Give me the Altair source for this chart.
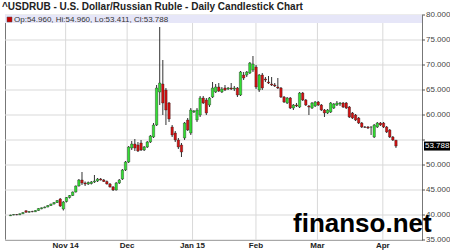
import altair as alt
import pandas as pd

# ---- data (trading-day sequence, Oct 2014 .. Apr 2015)
opens = [39.85, 40.00, 40.10, 40.05, 40.25, 40.85, 40.55, 40.70, 40.65, 40.90, 41.25, 41.45, 41.60, 41.90, 42.20, 42.50, 43.20, 41.20, 42.70,
         43.50, 43.90, 44.60, 45.80, 47.00, 46.40, 46.20, 46.30, 46.60, 46.80, 47.20, 47.00, 46.70, 46.20, 45.60, 45.00, 46.40, 47.20, 49.00,
         50.60, 53.40, 54.20, 54.00, 54.40, 53.00, 53.60, 54.60, 55.60, 58.00, 64.60, 66.20, 65.00, 62.40, 57.60, 56.40, 55.00, 54.00, 55.40, 59.00, 56.40, 60.60,
         59.00, 60.00, 63.40, 63.00, 62.00, 63.60, 64.60, 65.60, 64.60, 65.40, 65.20, 65.40, 65.20, 65.40, 64.00, 68.00, 68.00, 68.40, 69.00,
         69.60, 65.00, 68.00, 67.20, 66.60, 66.20, 66.00, 65.60, 65.40, 63.60, 62.40, 63.40, 61.40, 62.00, 61.60, 64.40, 63.00, 61.80, 61.40, 61.80,
         62.60, 62.00, 61.00, 60.40, 60.60, 61.40, 62.00, 62.20, 62.40, 62.40, 61.60, 60.40, 60.00, 59.40, 58.40, 57.60, 57.60, 57.60, 55.60, 57.60, 58.40,
         58.40, 57.60, 57.00, 55.60, 54.96]
highs = [40.05, 40.15, 40.20, 40.30, 40.55, 40.95, 40.75, 40.85, 40.95, 41.35, 41.50, 41.70, 41.95, 42.25, 42.55, 42.95, 43.40, 42.80, 43.60,
         44.00, 44.70, 45.90, 47.20, 48.60, 46.70, 46.70, 46.80, 48.00, 47.40, 47.40, 47.20, 46.90, 46.40, 45.80, 46.60, 47.20, 49.20, 50.80,
         53.80, 54.80, 55.20, 54.60, 55.00, 53.80, 54.80, 56.00, 58.40, 66.00, 77.60, 71.00, 65.40, 62.60, 58.00, 56.80, 55.40, 54.40, 58.60, 59.40, 61.40, 61.00,
         61.40, 63.80, 63.80, 63.40, 63.60, 66.60, 66.20, 66.40, 65.60, 66.00, 65.60, 66.40, 65.80, 65.60, 68.80, 68.60, 68.80, 70.60, 71.80,
         70.00, 68.20, 68.40, 67.60, 67.80, 67.60, 66.40, 67.40, 65.60, 63.80, 63.60, 63.60, 62.20, 62.40, 64.60, 64.60, 63.20, 62.00, 62.60, 62.80,
         62.80, 62.20, 61.20, 61.20, 62.60, 62.40, 62.80, 62.60, 62.60, 62.60, 61.80, 60.60, 60.20, 59.60, 58.60, 57.80, 57.80, 57.70, 58.20, 58.60, 58.60,
         58.60, 57.80, 57.20, 55.80, 54.96]
lows = [39.80, 39.95, 39.95, 40.00, 40.20, 40.45, 40.45, 40.55, 40.60, 40.85, 41.15, 41.35, 41.55, 41.80, 42.10, 42.40, 41.60, 40.90, 42.50,
        43.30, 43.80, 44.50, 45.70, 46.00, 45.80, 46.00, 46.10, 46.40, 46.60, 46.90, 46.60, 46.10, 45.50, 44.80, 44.90, 46.20, 47.00, 48.80,
        50.40, 53.00, 52.80, 52.60, 52.80, 52.80, 53.40, 54.40, 55.40, 57.80, 62.00, 60.00, 58.00, 58.60, 55.60, 54.60, 53.20, 51.60, 55.00, 56.80, 56.00, 60.40,
        58.60, 59.60, 62.20, 60.00, 61.60, 63.40, 64.40, 64.60, 64.40, 64.80, 65.00, 65.00, 64.80, 63.60, 63.80, 67.00, 67.60, 68.20, 68.60,
        65.20, 64.60, 65.00, 66.60, 66.20, 65.80, 65.60, 65.20, 63.40, 62.40, 62.20, 61.20, 61.00, 61.60, 61.40, 62.80, 61.80, 60.00, 61.20, 61.60,
        61.80, 60.80, 59.60, 60.20, 60.40, 61.20, 61.80, 61.80, 61.40, 61.20, 59.40, 59.20, 58.80, 58.20, 57.40, 57.40, 57.20, 56.00, 55.40, 57.40, 57.80,
        57.40, 56.40, 55.40, 54.80, 53.411]
closes = [40.00, 40.10, 40.05, 40.25, 40.50, 40.55, 40.70, 40.65, 40.90, 41.30, 41.45, 41.60, 41.90, 42.20, 42.50, 42.90, 41.80, 42.60, 43.50,
          43.90, 44.60, 45.80, 47.00, 46.40, 46.20, 46.50, 46.60, 46.80, 47.20, 47.00, 46.70, 46.20, 45.60, 45.00, 46.40, 47.00, 49.00, 50.60,
          53.60, 54.20, 53.40, 52.80, 53.00, 53.60, 54.60, 55.80, 58.00, 65.40, 66.40, 62.40, 61.00, 59.20, 56.00, 55.00, 53.60, 52.60, 58.40, 57.00, 61.00, 60.80,
          61.00, 63.40, 62.40, 60.40, 63.40, 65.40, 65.60, 64.80, 65.20, 65.00, 65.40, 65.20, 65.40, 64.00, 68.60, 67.40, 68.60, 70.40, 70.20,
          65.60, 68.00, 65.40, 67.00, 66.40, 66.00, 65.80, 65.40, 63.60, 62.60, 63.40, 61.40, 62.00, 61.80, 64.40, 63.00, 62.00, 61.60, 62.40, 62.60,
          62.00, 61.00, 60.40, 61.00, 62.40, 62.20, 62.40, 62.40, 61.60, 61.40, 59.60, 59.40, 59.00, 58.40, 57.60, 57.55, 57.40, 57.60, 58.00, 58.40, 58.00,
          57.60, 56.60, 55.60, 55.00, 53.788]

month_labels = ["Nov 14", "Dec", "Jan 15", "Feb", "Mar", "Apr"]
month_pos = [17.74, 37.52, 58.56, 78.96, 98.74, 119.78]
y_ticks = [35, 40, 45, 50, 55, 60, 65, 70, 75, 80]

title_text = "^USDRUB - U.S. Dollar/Russian Ruble - Daily Candlestick Chart"
legend_text = "Op:54.960, Hi:54.960, Lo:53.411, Cl:53.788"
last_close = closes[-1]

n = len(closes)
df = pd.DataFrame({
    "d": list(range(n)),
    "open": opens[:n], "high": highs[:n], "low": lows[:n], "close": closes[:n],
})
df["dir"] = ["up" if c >= o else "down" for o, c in zip(df["open"], df["close"])]

W, H = 417, 225
xs = alt.Scale(domain=[-0.16, 130.77], nice=False, zero=False)
ys = alt.Scale(domain=[35, 80], nice=False, zero=False)
FONT = "Liberation Sans"

base = alt.Chart(df)

# vertical month grid + labels
grid_df = pd.DataFrame({"pos": month_pos, "lab": month_labels})
vgrid = alt.Chart(grid_df).mark_rule(color="#d9d9d9", strokeWidth=1).encode(
    x=alt.X("pos:Q", scale=xs, axis=None),
)
mlabels = alt.Chart(grid_df).mark_text(
    font=FONT, fontSize=8, fontWeight="bold", color="#222", baseline="middle", align="center"
).encode(
    x=alt.X("pos:Q", scale=xs, axis=None),
    y=alt.value(H + 6),
    text="lab:N",
)

# horizontal grid, right-side ticks and labels
yt_df = pd.DataFrame({"v": y_ticks})
hgrid = alt.Chart(yt_df).mark_rule(color="#d9d9d9", strokeWidth=1).encode(
    y=alt.Y("v:Q", scale=ys, axis=None), x=alt.value(0), x2=alt.value(W))
yticks = alt.Chart(yt_df).mark_rule(color="#555", strokeWidth=1).encode(
    y=alt.Y("v:Q", scale=ys, axis=None), x=alt.value(W), x2=alt.value(W + 3))
ylabels = alt.Chart(yt_df).transform_filter("datum.v != 55").transform_calculate(
    s="format(datum.v, '.3f')"
).mark_text(font=FONT, fontSize=8, color="#444", align="left", baseline="middle").encode(
    y=alt.Y("v:Q", scale=ys, axis=None), x=alt.value(W + 4), text="s:N")

wick = base.mark_rule(color="#333", strokeWidth=1, clip=True).encode(
    x=alt.X("d:Q", scale=xs, axis=None),
    y=alt.Y("low:Q", scale=ys, axis=None),
    y2="high:Q",
)
body = base.mark_bar(size=2.4, stroke="#222", strokeWidth=0.4, clip=True).encode(
    x=alt.X("d:Q", scale=xs, axis=None),
    y=alt.Y("open:Q", scale=ys, axis=None),
    y2="close:Q",
    color=alt.Color("dir:N", scale=alt.Scale(domain=["up", "down"], range=["#33e033", "#d81010"]), legend=None),
)

one = pd.DataFrame({"t": [title_text], "l": [legend_text], "c": [last_close],
                    "cs": [f"{last_close:.3f}"], "w": ["finanso.net"]})
strip = alt.Chart(one).mark_rect(color="#e6e6f8").encode(
    x=alt.value(0), x2=alt.value(W), y=alt.value(0), y2=alt.value(8))
square = alt.Chart(one).mark_rect(color="#c80000", stroke="#555", strokeWidth=0.5).encode(
    x=alt.value(2), x2=alt.value(7), y=alt.value(2), y2=alt.value(7))
legtext = alt.Chart(one).mark_text(font=FONT, fontSize=8, color="#333", align="left", baseline="middle").encode(
    x=alt.value(9), y=alt.value(4.5), text="l:N")
title = alt.Chart(one).mark_text(font=FONT, fontSize=10, fontWeight="bold", color="#222", align="left",
                                 baseline="alphabetic").encode(
    x=alt.value(-3), y=alt.value(-5), text="t:N")
lastbox = alt.Chart(one).transform_calculate(lo="datum.c - 0.9", hi="datum.c + 0.9").mark_rect(color="#000").encode(
    x=alt.value(419), x2=alt.value(445), y=alt.Y("lo:Q", scale=ys, axis=None), y2="hi:Q")
lasttext = alt.Chart(one).mark_text(font=FONT, fontSize=8, color="#fff", align="left", baseline="middle").encode(
    x=alt.value(420), y=alt.Y("c:Q", scale=ys, axis=None), text="cs:N")
water = alt.Chart(one).mark_text(font=FONT, fontSize=26, fontWeight="bold", color="#000", align="left",
                                 baseline="alphabetic").encode(
    x=alt.value(288), y=alt.value(217), text="w:N")

chart = alt.layer(
    hgrid, vgrid, strip, square, legtext, wick, body, yticks, ylabels, mlabels, lastbox, lasttext, water, title
).properties(
    width=W, height=H,
    autosize=alt.AutoSizeParams(type="none"),
    padding={"left": 5, "top": 15, "right": 28, "bottom": 11},
    background="white",
).configure_view(stroke="#777", strokeWidth=1)

chart.save("out.html", embed_options={"renderer": "svg", "actions": False})
